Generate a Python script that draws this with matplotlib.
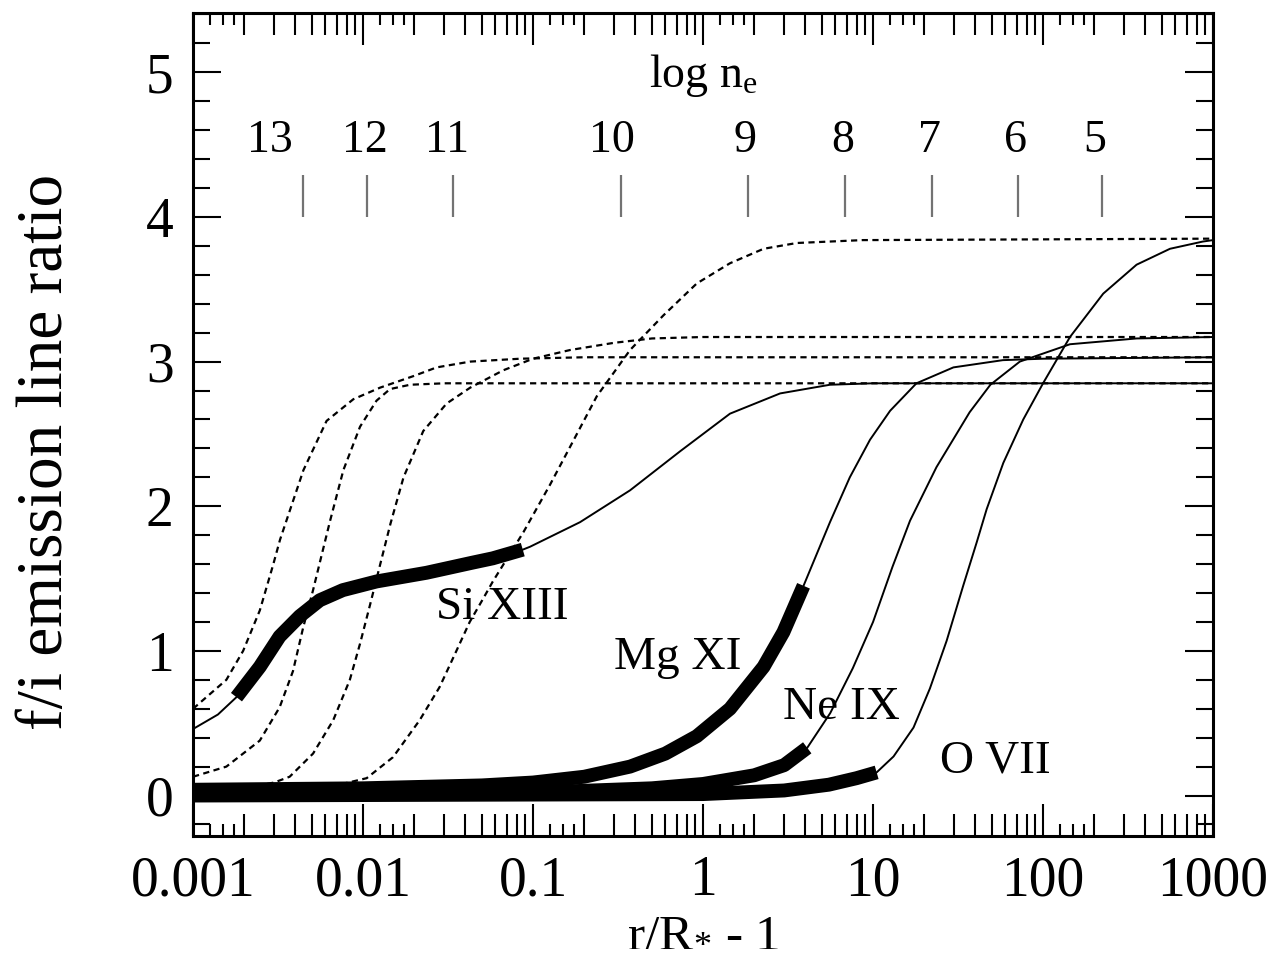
import matplotlib
matplotlib.use("Agg")
import matplotlib.pyplot as plt
from matplotlib.ticker import LogLocator, MultipleLocator, NullFormatter, NullLocator

plt.rcParams['font.family'] = ['Liberation Serif', 'DejaVu Serif']
plt.rcParams['mathtext.fontset'] = 'custom'
plt.rcParams['mathtext.rm'] = 'Liberation Serif'
plt.rcParams['mathtext.it'] = 'Liberation Serif:italic'

# solid curves, x = r/R* - 1
si_x = [0.001, 0.0014, 0.0018, 0.00247, 0.00323, 0.00424, 0.00556, 0.0076, 0.012, 0.0236,
        0.044, 0.058, 0.087, 0.096, 0.189, 0.372, 0.733, 1.44, 2.84, 5.58, 10, 1000]
si_y = [0.46, 0.56, 0.68, 0.89, 1.1, 1.24, 1.35, 1.42, 1.48, 1.54,
        1.61, 1.64, 1.70, 1.72, 1.89, 2.11, 2.38, 2.64, 2.78, 2.84, 2.85, 2.85]
si_thick = (0.0018, 0.087)

mg_x = [0.001, 0.01, 0.05, 0.1, 0.2, 0.372, 0.6, 0.918, 1.44, 2.27, 2.97, 3.9,
        5.58, 7.3, 9.6, 12.6, 18, 29.7, 58, 100, 1000]
mg_y = [0.04, 0.05, 0.07, 0.09, 0.13, 0.2, 0.29, 0.41, 0.6, 0.89, 1.13, 1.45,
        1.89, 2.2, 2.46, 2.66, 2.85, 2.96, 3.01, 3.02, 3.03]
mg_thick = (0.001, 3.9)

ne_x = [0.001, 0.1, 0.5, 1, 2, 3, 4.1, 5.6, 7.6, 10, 13, 16.5, 23.6, 37, 49, 73, 144, 355, 1000]
ne_y = [0.01, 0.02, 0.05, 0.08, 0.14, 0.21, 0.33, 0.57, 0.88, 1.2, 1.58, 1.9, 2.27, 2.65,
        2.84, 3.0, 3.12, 3.16, 3.17]
ne_thick = (0.001, 4.1)

o_x = [0.001, 1, 3, 5.5, 8, 10.5, 13.2, 17.3, 21.6, 27.1, 33.9, 40.7, 46.6, 58.4, 76.5,
       100, 144, 226, 355, 558, 871, 1000]
o_y = [0.0, 0.01, 0.035, 0.075, 0.12, 0.16, 0.27, 0.47, 0.74, 1.07, 1.45, 1.75, 1.98, 2.3, 2.6,
       2.85, 3.17, 3.47, 3.67, 3.78, 3.83, 3.84]
o_thick = (0.001, 10.5)

# dashed curves
da_x = [0.001, 0.00157, 0.00197, 0.00247, 0.00295, 0.00325, 0.00446, 0.0061, 0.00877,
        0.0126, 0.0198, 0.0271, 0.0427, 0.084, 0.2, 1000]
da_y = [0.6, 0.8, 1.0, 1.28, 1.59, 1.77, 2.25, 2.59, 2.74, 2.82, 2.9, 2.96, 3.0, 3.02, 3.03, 3.03]

db_x = [0.001, 0.00157, 0.00247, 0.00323, 0.00387, 0.00444, 0.00508, 0.0057, 0.0064,
        0.00766, 0.0096, 0.012, 0.0144, 0.0189, 0.03, 1000]
db_y = [0.13, 0.2, 0.38, 0.61, 0.86, 1.16, 1.42, 1.66, 1.9, 2.25, 2.55, 2.73, 2.81, 2.84, 2.85, 2.85]

dc_x = [0.001, 0.002, 0.003, 0.0037, 0.00508, 0.00667, 0.00836, 0.0096, 0.011, 0.0125,
        0.0145, 0.0173, 0.0226, 0.031, 0.0427, 0.0668, 0.1, 0.165, 0.3, 0.5, 1, 1000]
dc_y = [0.03, 0.05, 0.09, 0.13, 0.29, 0.52, 0.8, 1.05, 1.32, 1.58, 1.88, 2.2, 2.52, 2.71,
        2.82, 2.94, 3.02, 3.08, 3.13, 3.16, 3.17, 3.17]

dd_x = [0.001, 0.005, 0.0105, 0.015, 0.0215, 0.0282, 0.0354, 0.0424, 0.0508, 0.058, 0.0877,
        0.126, 0.165, 0.237, 0.372, 0.585, 0.918, 1.44, 2.27, 3.56, 8.7, 1000]
dd_y = [0.0, 0.03, 0.12, 0.265, 0.52, 0.75, 1.0, 1.2, 1.36, 1.48, 1.82, 2.15, 2.41, 2.76, 3.08,
        3.32, 3.54, 3.68, 3.78, 3.82, 3.84, 3.85]

# ion labels
ion_names = ["Si XIII", "Mg XI", "Ne IX", "O VII"]
ion_label_x = [0.0658, 0.713, 6.48, 52.2]
ion_label_y = [1.30, 0.95, 0.61, 0.24]

# log n_e scale drawn at the top
ne_values = ["13", "12", "11", "10", "9", "8", "7", "6", "5"]
ne_mark_x = [0.00444, 0.0106, 0.0338, 0.33, 1.84, 6.84, 22.2, 71.3, 222]
ne_label_x = [0.00284, 0.01028, 0.0312, 0.292, 1.77, 6.66, 21.6, 68.4, 202]

xtick_vals = [0.001, 0.01, 0.1, 1, 10, 100, 1000]
xtick_labels = ["0.001", "0.01", "0.1", "1", "10", "100", "1000"]
ytick_vals = [0, 1, 2, 3, 4, 5]

fig = plt.figure(figsize=(12.71, 9.71), dpi=100)
ax = fig.add_axes([0.1519, 0.139, 0.8025, 0.8476])

dash_kw = dict(color="black", lw=1.6, dashes=(2.8, 2.0))
for xs, ys in [(da_x, da_y), (db_x, db_y), (dc_x, dc_y), (dd_x, dd_y)]:
    ax.plot(xs, ys, **dash_kw)

# solid curves: thin everywhere, thick over the observed part
curves = [(si_x, si_y, si_thick), (mg_x, mg_y, mg_thick), (ne_x, ne_y, ne_thick), (o_x, o_y, o_thick)]
for xs, ys, (t0, t1) in curves:
    ax.plot(xs, ys, color="black", lw=1.4)
    tx = [x for x in xs if t0 <= x <= t1]
    ty = [y for x, y in zip(xs, ys) if t0 <= x <= t1]
    ax.plot(tx, ty, color="black", lw=10, solid_capstyle="butt", solid_joinstyle="round")

for name, lx, ly in zip(ion_names, ion_label_x, ion_label_y):
    ax.text(lx, ly, name, fontsize=34, ha="center", va="center")

ax.vlines(ne_mark_x, 4.0, 4.29, color="0.45", lw=1.6)
for lab, lx in zip(ne_values, ne_label_x):
    ax.text(lx, 4.53, lab, fontsize=33, ha="center", va="center")
ax.text(1.0, 4.98, r"log n$_\mathrm{e}$", fontsize=33, ha="center", va="center")

ax.set_xscale("log")
ax.set_xlim(1e-3, 1e3)
ax.set_ylim(-0.28, 5.41)

ax.set_xticks(xtick_vals, xtick_labels)
ax.xaxis.set_minor_locator(LogLocator(base=10, subs=range(2, 10), numticks=20))
ax.xaxis.set_minor_formatter(NullFormatter())
ax.set_yticks(ytick_vals)
ax.yaxis.set_minor_locator(MultipleLocator(0.2))

ax.tick_params(axis="both", which="both", direction="in", top=True, right=True,
               width=1.5, labelsize=40)
ax.tick_params(axis="x", which="major", length=23, pad=14)
ax.tick_params(axis="x", which="minor", length=16)
ax.tick_params(axis="y", which="major", length=20, pad=14)
ax.tick_params(axis="y", which="minor", length=12)
for sp in ax.spines.values():
    sp.set_linewidth(2.2)

# extra short ticks between each decade and 2
short_ticks = [d * s for d in [1e-3, 1e-2, 1e-1, 1, 10, 100] for s in (1.25, 1.5, 1.75)]
for loc in ["bottom", "top"]:
    sec = ax.secondary_xaxis(loc, functions=(lambda v: v, lambda v: v))
    sec.set_xticks(short_ticks)
    sec.xaxis.set_minor_locator(NullLocator())
    sec.tick_params(direction="in", length=8.5, width=1.5, labelbottom=False, labeltop=False)
    sec.spines[loc].set_visible(False)

fig.text(46 / 1271, 1 - 452 / 971, "f/i emission line ratio", rotation=90,
         fontsize=47, ha="center", va="center")
fig.text(703 / 1271, 1 - 945 / 971, r"r/R$_{*}$ - 1", fontsize=37, ha="center", va="baseline")

fig.savefig("out.png", dpi=100)
